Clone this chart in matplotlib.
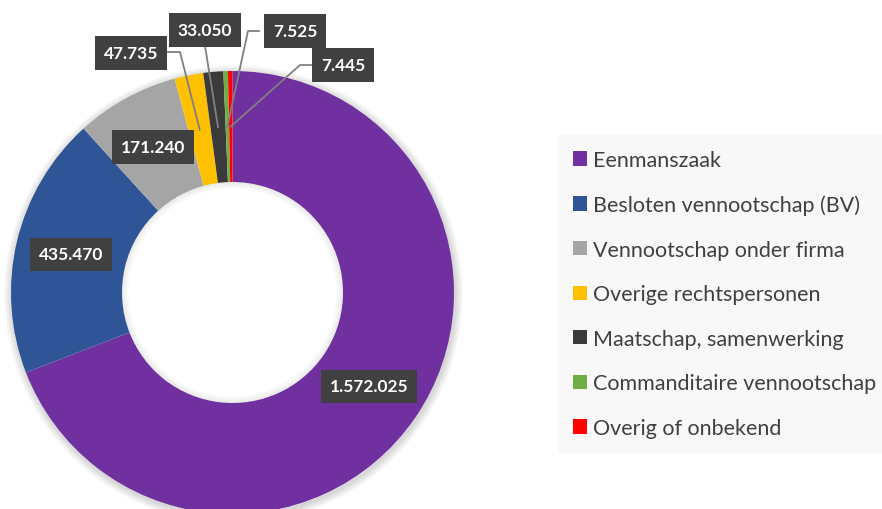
import matplotlib.pyplot as plt
import numpy as np
from matplotlib.patches import Patch, Wedge

plt.rcParams["font.family"] = ["Lato", "DejaVu Sans"]

categories = [
    "Eenmanszaak",
    "Besloten vennootschap (BV)",
    "Vennootschap onder firma",
    "Overige rechtspersonen",
    "Maatschap, samenwerking",
    "Commanditaire vennootschap",
    "Overig of onbekend",
]
values = [1572025, 435470, 171240, 47735, 33050, 7525, 7445]
value_labels = ["1.572.025", "435.470", "171.240", "47.735", "33.050", "7.525", "7.445"]
colors = ["#7030A0", "#2F5597", "#A5A5A5", "#FFC000", "#3A3A3A", "#70AD47", "#FF0000"]

W, H = 882, 510
cx, cy = 232.5, H - 293.5
R_out, R_in = 221.5, 110.5
r_mid = (R_out + R_in) / 2

# label box centers (pixels, y from top) for the small slices, None = on slice
label_pos = [None, None, None, (131, 54), (205, 31), (295, 32), (343, 66)]
# where the leader leaves the box: (x, y, elbow_dx)
leader_start = [None, None, None, (168, 53, 12), (205, 47, 0), (259, 32, -11), (311, 66, -11)]


def py(y):
    return H - y


fig = plt.figure(figsize=(W / 100, H / 100), dpi=100)
ax = fig.add_axes([0, 0, 1, 1])

# soft shadow around the ring (outside only)
for i in range(1, 9):
    ax.add_patch(Wedge((cx + 1, cy - 2), R_out + i, 0, 360, width=i + 2,
                       color="#000000", alpha=0.02, lw=0, zorder=0))

wedges, _ = ax.pie(
    values,
    colors=colors,
    startangle=90,
    counterclock=False,
    radius=R_out,
    center=(cx, cy),
    wedgeprops=dict(width=R_out - R_in, linewidth=0),
)

# inner shadow in the hole
for i in range(1, 8):
    ax.add_patch(Wedge((cx, cy), R_in, 0, 360, width=i, color="#000000", alpha=0.012, lw=0, zorder=3))

ax.set_xlim(0, W)
ax.set_ylim(0, H)
ax.set_aspect("equal")
ax.axis("off")

box = dict(boxstyle="square,pad=0.5", facecolor="#404040", linewidth=0)
for i, w in enumerate(wedges):
    mid = np.deg2rad((w.theta1 + w.theta2) / 2)
    ax_x = cx + r_mid * np.cos(mid)
    ax_y = cy + r_mid * np.sin(mid)
    if label_pos[i] is None:
        tx, ty = ax_x, ax_y
    else:
        tx, ty = label_pos[i][0], py(label_pos[i][1])
        sx, sy, edx = leader_start[i]
        ax.plot([sx, sx + edx, ax_x], [py(sy), py(sy), ax_y], color="#808080", lw=1.3, zorder=4)
    ax.text(tx, ty, value_labels[i], color="white", fontsize=12.5, fontweight="bold",
            ha="center", va="center", bbox=box, zorder=5)

handles = [Patch(facecolor=c, edgecolor="none") for c in colors]
leg = fig.legend(
    handles,
    categories,
    loc="upper left",
    bbox_to_anchor=(558 / W, 1 - 136 / H),
    borderaxespad=0,
    frameon=True,
    fancybox=False,
    facecolor="#F8F8F8",
    edgecolor="none",
    framealpha=1,
    fontsize=15.5,
    labelcolor="#404040",
    handlelength=0.65,
    handleheight=0.65,
    handletextpad=0.28,
    labelspacing=1.14,
    borderpad=0.7,
)

fig.savefig("out.png", dpi=100)
